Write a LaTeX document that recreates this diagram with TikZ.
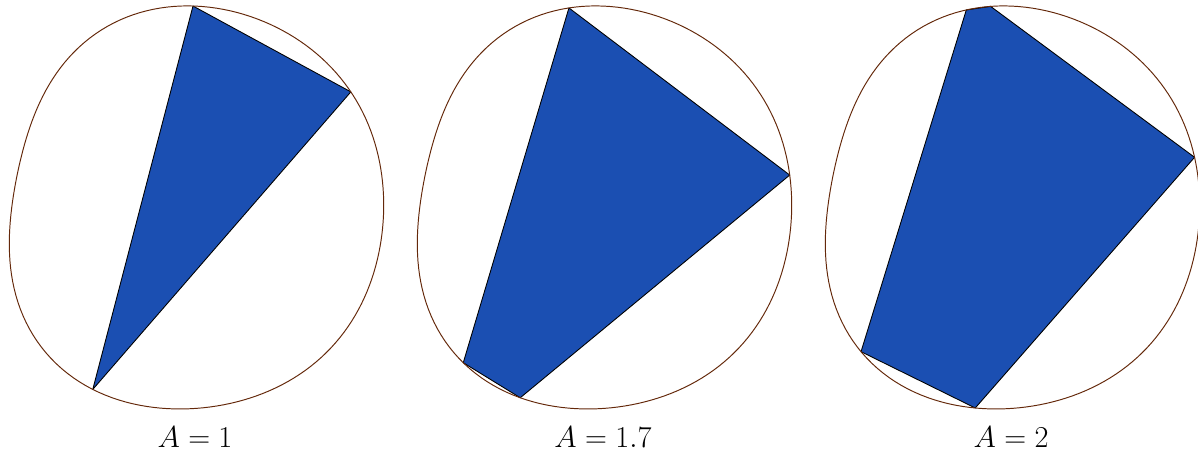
\documentclass[tikz,border=0pt]{standalone}
\usepackage{tikz}
\definecolor{rimbrown}{RGB}{100,40,10}
\definecolor{fillblue}{RGB}{27,79,178}
\tikzset{
  declare function={outline(\a)=3.9165-0.0335*cos(\a)-0.0402*sin(\a)-0.1513*cos(2*\a)+0.0745*sin(2*\a)+0.0670*cos(3*\a)-0.0553*sin(3*\a)-0.0450*cos(4*\a)+0.0254*sin(4*\a);},
  rim/.style={line width=0.55pt, draw=rimbrown, line join=round},
  inscribed/.style={fill=fillblue, draw=black, line width=0.5pt, line join=round},
  caption/.style={font=\fontsize{16}{19}\selectfont, anchor=base, inner sep=0pt},
}

\begin{document}
\begin{tikzpicture}
\useasboundingbox (0,0) rectangle (23.96,9.02);
\coordinate (c1) at (3.92,4.86);
\coordinate (c2) at (12.08,4.86);
\coordinate (c3) at (20.24,4.86);
% A = 1
\coordinate (p1a) at ([shift={(90.85:{outline(90.85)})}]c1);
\coordinate (p1b) at ([shift={(36.87:{outline(36.87)})}]c1);
\coordinate (p1c) at ([shift={(240.36:{outline(240.36)})}]c1);
\fill[inscribed] (p1a) -- (p1b) -- (p1c) -- cycle;
\draw[rim, shift={(c1)}] plot[domain=0:360, samples=181, variable=\a] (\a:{outline(\a)}) -- cycle;
\node[caption] (lab1) at (3.900,0.080) {$A=1$};
% A = 1.7
\coordinate (p2a) at ([shift={(99.94:{outline(99.94)})}]c2);
\coordinate (p2b) at ([shift={(10.06:{outline(10.06)})}]c2);
\coordinate (p2c) at ([shift={(246.18:{outline(246.18)})}]c2);
\coordinate (p2d) at ([shift={(227.71:{outline(227.71)})}]c2);
\fill[inscribed] (p2a) -- (p2b) -- (p2c) -- (p2d) -- cycle;
\draw[rim, shift={(c2)}] plot[domain=0:360, samples=181, variable=\a] (\a:{outline(\a)}) -- cycle;
\node[caption] (lab2) at (12.060,0.080) {$A=1.7$};
% A = 2
\coordinate (p3a) at ([shift={(102.99:{outline(102.99)})}]c3);
\coordinate (p3b) at ([shift={(96.06:{outline(96.06)})}]c3);
\coordinate (p3c) at ([shift={(15.52:{outline(15.52)})}]c3);
\coordinate (p3d) at ([shift={(259.58:{outline(259.58)})}]c3);
\coordinate (p3e) at ([shift={(223.58:{outline(223.58)})}]c3);
\fill[inscribed] (p3a) -- (p3b) -- (p3c) -- (p3d) -- (p3e) -- cycle;
\draw[rim, shift={(c3)}] plot[domain=0:360, samples=181, variable=\a] (\a:{outline(\a)}) -- cycle;
\node[caption] (lab3) at (20.220,0.080) {$A=2$};
\end{tikzpicture}
\end{document}
